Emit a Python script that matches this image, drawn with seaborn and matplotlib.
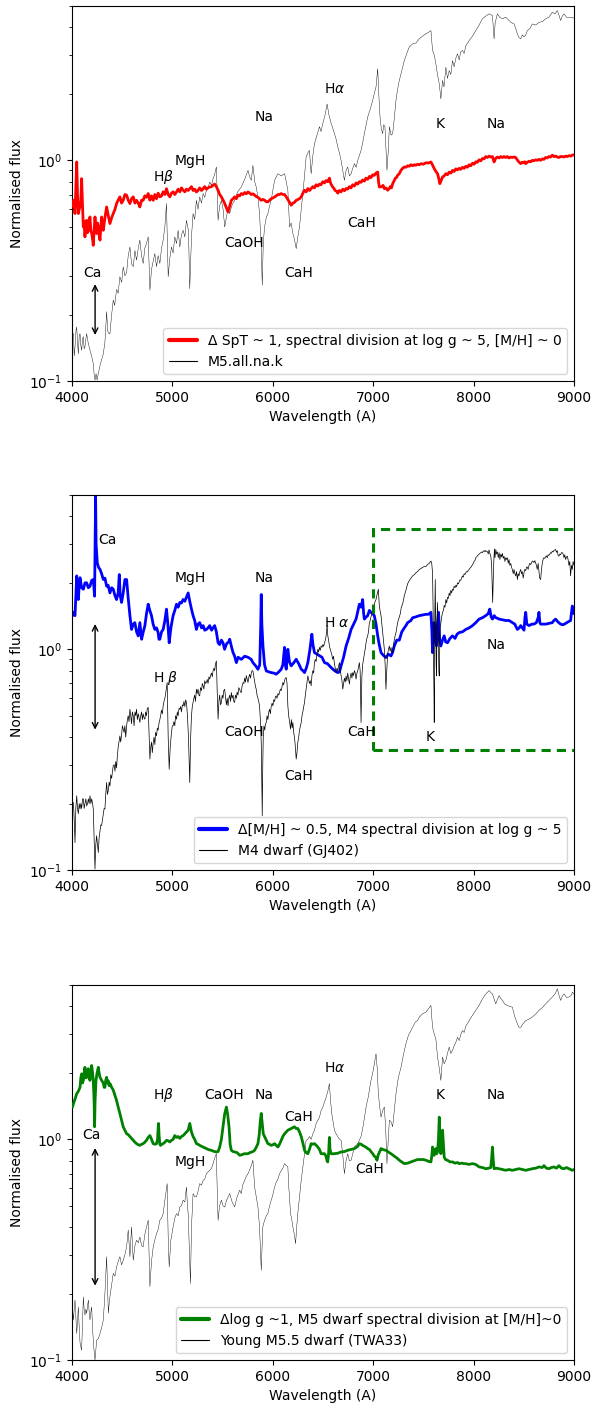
import numpy as np
import matplotlib
matplotlib.use("Agg")
import matplotlib.pyplot as plt
import seaborn as sns
from matplotlib.patches import Rectangle

sns.set_style("ticks", rc={"axes.edgecolor": "black", "xtick.color": "black",
                           "ytick.color": "black", "text.color": "black",
                           "axes.labelcolor": "black"})
plt.rcParams["font.family"] = ["DejaVu Sans"]
plt.rcParams["font.size"] = 10
plt.rcParams["mathtext.fontset"] = "dejavusans"

# ---------------- Panel 1: spectral-type division vs M5 template ----------------
spt_wave = [4005, 4014, 4022, 4030, 4040, 4047, 4055, 4063, 4072, 4080, 4088, 4096, 4105, 4113, 4121, 4129,
            4138, 4146, 4155, 4163, 4171, 4179, 4188, 4196, 4205, 4212, 4220, 4229, 4237, 4245, 4254, 4262,
            4270, 4279, 4287, 4295, 4304, 4312, 4328, 4345, 4362, 4378, 4395, 4411, 4428, 4444, 4460, 4477,
            4494, 4510, 4527, 4544, 4560, 4577, 4593, 4610, 4627, 4643, 4660, 4676, 4693, 4709, 4725, 4742,
            4759, 4776, 4792, 4809, 4825, 4842, 4858, 4875, 4892, 4908, 4925, 4941, 4958, 4974, 4991, 5007,
            5024, 5041, 5057, 5074, 5090, 5107, 5124, 5140, 5157, 5173, 5190, 5206, 5222, 5239, 5255, 5272,
            5290, 5306, 5322, 5339, 5355, 5372, 5390, 5405, 5421, 5438, 5455, 5471, 5488, 5505, 5521, 5538,
            5554, 5571, 5587, 5604, 5620, 5637, 5653, 5670, 5686, 5703, 5720, 5736, 5753, 5770, 5786, 5803,
            5819, 5836, 5852, 5868, 5885, 5902, 5918, 5935, 5951, 5968, 5984, 6001, 6018, 6034, 6051, 6068,
            6084, 6100, 6117, 6134, 6150, 6167, 6183, 6200, 6216, 6233, 6250, 6266, 6283, 6300, 6316, 6333,
            6350, 6366, 6382, 6399, 6415, 6432, 6448, 6465, 6480, 6498, 6515, 6530, 6547, 6564, 6572, 6580,
            6597, 6610, 6620, 6635, 6647, 6663, 6680, 6697, 6713, 6730, 6746, 6763, 6780, 6796, 6813, 6830,
            6846, 6862, 6879, 6895, 6912, 6928, 6945, 6962, 6978, 6995, 7010, 7028, 7045, 7053, 7061, 7085,
            7098, 7111, 7128, 7144, 7160, 7170, 7182, 7194, 7210, 7220, 7232, 7243, 7260, 7276, 7293, 7310,
            7326, 7343, 7360, 7376, 7393, 7410, 7426, 7442, 7459, 7480, 7500, 7525, 7550, 7575, 7592, 7608,
            7625, 7641, 7655, 7664, 7676, 7691, 7707, 7724, 7740, 7757, 7773, 7790, 7806, 7823, 7840, 7856,
            7872, 7889, 7906, 7922, 7939, 7956, 7972, 7989, 8005, 8022, 8038, 8055, 8072, 8088, 8105, 8121,
            8138, 8155, 8171, 8188, 8204, 8220, 8237, 8254, 8270, 8287, 8303, 8320, 8336, 8353, 8370, 8386,
            8403, 8419, 8445, 8469, 8485, 8495, 8510, 8519, 8535, 8550, 8568, 8585, 8600, 8618, 8634, 8651,
            8668, 8684, 8700, 8717, 8734, 8750, 8767, 8784, 8800, 8817, 8834, 8850, 8867, 8883, 8900, 8917,
            8933, 8950, 8967, 8983, 9000]
spt_flux = [0.62, 0.659, 0.60, 0.574, 0.80, 0.983, 0.70, 0.574, 0.60, 0.615, 0.66, 0.826, 0.62, 0.499, 0.53, 0.450,
            0.52, 0.535, 0.47, 0.482, 0.53, 0.554, 0.48, 0.466, 0.44, 0.412, 0.48, 0.554, 0.50, 0.466, 0.52, 0.499,
            0.46, 0.435, 0.50, 0.554, 0.50, 0.482, 0.55, 0.615, 0.56, 0.517, 0.55, 0.574, 0.60, 0.637, 0.66, 0.683,
            0.64, 0.659, 0.70, 0.695, 0.66, 0.637, 0.67, 0.683, 0.64, 0.659, 0.64, 0.615, 0.66, 0.659, 0.69, 0.68,
            0.707, 0.66, 0.69, 0.659, 0.70, 0.67, 0.71, 0.683, 0.69, 0.72, 0.70, 0.744, 0.70, 0.683, 0.71, 0.72,
            0.70, 0.719, 0.74, 0.72, 0.75, 0.732, 0.72, 0.74, 0.73, 0.744, 0.76, 0.73, 0.74, 0.719, 0.73, 0.75,
            0.73, 0.744, 0.76, 0.74, 0.75, 0.757, 0.76, 0.771, 0.78, 0.76, 0.732, 0.70, 0.683, 0.66, 0.637, 0.61,
            0.584, 0.62, 0.659, 0.67, 0.683, 0.67, 0.695, 0.69, 0.707, 0.70, 0.715, 0.705, 0.719, 0.71, 0.70, 0.705,
            0.695, 0.685, 0.68, 0.67, 0.659, 0.665, 0.66, 0.65, 0.648, 0.66, 0.67, 0.675, 0.683, 0.69, 0.70, 0.70,
            0.707, 0.70, 0.70, 0.683, 0.665, 0.645, 0.626, 0.64, 0.645, 0.659, 0.665, 0.67, 0.683, 0.71, 0.732, 0.72,
            0.745, 0.73, 0.744, 0.76, 0.75, 0.775, 0.765, 0.78, 0.775, 0.80, 0.79, 0.81, 0.80, 0.83, 0.80, 0.78,
            0.757, 0.745, 0.73, 0.725, 0.71, 0.73, 0.72, 0.74, 0.728, 0.745, 0.74, 0.76, 0.75, 0.775, 0.765, 0.79,
            0.78, 0.80, 0.795, 0.815, 0.805, 0.83, 0.82, 0.845, 0.835, 0.86, 0.855, 0.875, 0.885, 0.80, 0.757, 0.76,
            0.77, 0.744, 0.75, 0.732, 0.745, 0.76, 0.75, 0.784, 0.81, 0.83, 0.835, 0.855, 0.87, 0.90, 0.92, 0.933,
            0.93, 0.945, 0.94, 0.955, 0.945, 0.955, 0.95, 0.96, 0.955, 0.966, 0.96, 0.975, 0.972, 0.983, 0.95, 0.917,
            0.89, 0.870, 0.82, 0.784, 0.81, 0.841, 0.85, 0.87, 0.86, 0.885, 0.875, 0.90, 0.89, 0.915, 0.905, 0.92,
            0.91, 0.93, 0.92, 0.94, 0.93, 0.955, 0.945, 0.97, 0.96, 0.985, 0.98, 1.005, 0.995, 1.02, 1.015, 1.04,
            1.03, 1.045, 1.035, 1.04, 0.983, 1.02, 1.035, 1.025, 1.04, 1.03, 1.04, 1.03, 1.04, 1.025, 1.035, 1.03,
            1.035, 1.03, 0.99, 0.966, 0.98, 0.975, 0.985, 0.966, 0.98, 0.99, 0.985, 1.0, 0.995, 1.005, 1.0, 1.01,
            1.0, 1.015, 1.01, 1.03, 1.025, 1.04, 1.035, 1.055, 1.04, 1.045, 1.035, 1.03, 1.04, 1.04, 1.035, 1.045,
            1.04, 1.05, 1.045, 1.055, 1.06]

m5_wave = [4005, 4014, 4022, 4030, 4040, 4047, 4055, 4063, 4072, 4080, 4088, 4096, 4105, 4113, 4121, 4129,
           4138, 4146, 4160, 4179, 4195, 4212, 4222, 4229, 4240, 4250, 4262, 4280, 4295, 4312, 4328, 4340,
           4345, 4355, 4362, 4378, 4395, 4411, 4425, 4444, 4460, 4477, 4495, 4510, 4527, 4544, 4560, 4577,
           4593, 4610, 4627, 4643, 4660, 4676, 4693, 4709, 4725, 4742, 4759, 4776, 4792, 4809, 4825, 4842,
           4858, 4875, 4892, 4908, 4925, 4941, 4958, 4974, 4991, 5007, 5024, 5041, 5057, 5074, 5090, 5107,
           5124, 5140, 5160, 5173, 5190, 5206, 5222, 5239, 5255, 5272, 5290, 5306, 5322, 5339, 5355, 5372,
           5390, 5405, 5420, 5438, 5455, 5470, 5488, 5505, 5521, 5540, 5554, 5571, 5590, 5620, 5650, 5686,
           5720, 5753, 5770, 5786, 5802, 5820, 5835, 5852, 5868, 5885, 5895, 5905, 5918, 5935, 5951, 5968,
           5984, 6000, 6018, 6034, 6051, 6084, 6117, 6134, 6150, 6167, 6183, 6200, 6215, 6233, 6249, 6266,
           6283, 6299, 6316, 6332, 6349, 6365, 6382, 6399, 6415, 6440, 6465, 6480, 6498, 6520, 6541, 6560,
           6581, 6597, 6614, 6630, 6647, 6664, 6680, 6697, 6713, 6730, 6746, 6763, 6780, 6796, 6813, 6830,
           6846, 6862, 6879, 6895, 6912, 6930, 6945, 6970, 6995, 7010, 7028, 7045, 7058, 7068, 7080, 7094,
           7105, 7117, 7128, 7137, 7150, 7161, 7178, 7194, 7210, 7227, 7243, 7260, 7285, 7310, 7335, 7359,
           7393, 7426, 7459, 7490, 7525, 7550, 7575, 7591, 7608, 7624, 7640, 7658, 7674, 7691, 7705, 7724,
           7740, 7757, 7773, 7790, 7806, 7823, 7840, 7856, 7872, 7889, 7906, 7922, 7956, 7989, 8022, 8055,
           8088, 8121, 8155, 8188, 8196, 8204, 8215, 8237, 8260, 8287, 8320, 8353, 8378, 8403, 8420, 8436,
           8452, 8469, 8485, 8502, 8519, 8535, 8560, 8585, 8618, 8651, 8685, 8718, 8750, 8784, 8810, 8834,
           8850, 8867, 8883, 8900, 8925, 8950, 8983, 9000]
m5_flux = [0.16, 0.164, 0.13, 0.143, 0.17, 0.176, 0.15, 0.133, 0.16, 0.164, 0.145, 0.138, 0.155, 0.159, 0.14, 0.143,
           0.155, 0.164, 0.15, 0.138, 0.13, 0.120, 0.105, 0.101, 0.108, 0.101, 0.108, 0.118, 0.125, 0.133, 0.150, 0.19,
           0.206, 0.17, 0.165, 0.164, 0.20, 0.233, 0.22, 0.26, 0.25, 0.297, 0.28, 0.329, 0.30, 0.31, 0.37, 0.405,
           0.34, 0.33, 0.39, 0.353, 0.40, 0.435, 0.37, 0.341, 0.40, 0.42, 0.450, 0.258, 0.32, 0.35, 0.378, 0.33,
           0.37, 0.341, 0.40, 0.435, 0.50, 0.637, 0.297, 0.36, 0.405, 0.38, 0.450, 0.42, 0.482, 0.405, 0.46, 0.482,
           0.45, 0.535, 0.48, 0.262, 0.45, 0.574, 0.54, 0.659, 0.60, 0.683, 0.64, 0.707, 0.68, 0.732, 0.75, 0.798,
           0.77, 0.826, 0.86, 0.933, 0.535, 0.62, 0.659, 0.60, 0.499, 0.56, 0.60, 0.574, 0.62, 0.659, 0.72, 0.757,
           0.82, 0.901, 0.84, 0.812, 0.949, 0.80, 0.757, 0.68, 0.574, 0.40, 0.272, 0.42, 0.499, 0.55, 0.574, 0.62,
           0.659, 0.73, 0.812, 0.84, 0.870, 0.85, 0.870, 0.80, 0.732, 0.499, 0.52, 0.466, 0.44, 0.398, 0.45, 0.499,
           0.60, 0.707, 0.85, 1.035, 1.08, 1.11, 0.870, 1.05, 1.19, 1.30, 1.42, 1.35, 1.47, 1.60, 1.80, 1.60,
           1.47, 1.40, 1.32, 1.25, 1.15, 1.08, 1.0, 0.90, 0.812, 0.90, 0.933, 0.85, 0.870, 0.92, 0.966, 0.93,
           1.0, 1.05, 1.11, 1.20, 1.32, 1.45, 1.57, 1.70, 1.87, 2.0, 2.15, 2.60, 1.90, 1.57, 1.40, 1.32,
           1.45, 1.42, 1.10, 0.901, 1.10, 1.42, 1.30, 1.32, 1.55, 1.87, 2.10, 2.30, 2.55, 2.83, 3.05, 3.26,
           3.37, 3.40, 3.55, 3.65, 3.74, 3.80, 3.87, 3.15, 3.00, 2.74, 2.45, 2.22, 1.90, 2.30, 2.15, 2.64,
           2.35, 2.55, 2.45, 2.83, 2.65, 2.90, 3.04, 2.85, 3.10, 3.15, 3.05, 3.30, 3.49, 3.65, 3.87, 4.10,
           4.38, 4.50, 4.61, 4.53, 4.0, 3.55, 4.20, 4.61, 4.45, 4.38, 4.45, 4.30, 4.20, 4.15, 3.95, 3.74,
           3.60, 3.55, 3.70, 3.62, 3.70, 3.87, 3.95, 4.15, 4.10, 4.22, 4.25, 4.38, 4.45, 4.69, 4.60, 4.77,
           4.55, 4.30, 4.50, 4.61, 4.45, 4.45, 4.45, 4.40]

# ---------------- Panel 2: metallicity division vs GJ402 ----------------
mh_wave = [4005, 4014, 4030, 4047, 4055, 4063, 4072, 4080, 4096, 4113, 4130, 4146, 4163, 4179, 4196, 4212,
           4225, 4231, 4235, 4240, 4252, 4265, 4279, 4295, 4312, 4328, 4345, 4360, 4378, 4395, 4411, 4428,
           4444, 4460, 4471, 4480, 4494, 4510, 4527, 4544, 4560, 4577, 4593, 4610, 4626, 4643, 4660, 4676,
           4693, 4710, 4726, 4742, 4759, 4775, 4792, 4808, 4825, 4842, 4858, 4866, 4875, 4892, 4908, 4925,
           4941, 4955, 4968, 4985, 5007, 5024, 5041, 5057, 5074, 5090, 5107, 5124, 5140, 5157, 5173, 5190,
           5206, 5222, 5239, 5255, 5272, 5290, 5306, 5322, 5339, 5355, 5372, 5390, 5405, 5421, 5438, 5455,
           5470, 5488, 5504, 5520, 5540, 5560, 5571, 5590, 5604, 5620, 5637, 5655, 5686, 5720, 5753, 5785,
           5802, 5830, 5852, 5870, 5880, 5885, 5891, 5902, 5918, 5935, 5960, 5984, 6010, 6034, 6060, 6084,
           6100, 6117, 6125, 6134, 6142, 6150, 6165, 6183, 6210, 6233, 6258, 6283, 6300, 6316, 6333, 6349,
           6370, 6389, 6400, 6415, 6440, 6465, 6490, 6515, 6545, 6581, 6615, 6647, 6664, 6680, 6705, 6730,
           6755, 6780, 6805, 6829, 6846, 6862, 6880, 6895, 6905, 6912, 6930, 6945, 6962, 6978, 6995, 7011,
           7028, 7045, 7060, 7078, 7100, 7127, 7150, 7177, 7194, 7210, 7235, 7260, 7285, 7310, 7326, 7343,
           7376, 7393, 7420, 7459, 7490, 7525, 7550, 7575, 7585, 7591, 7600, 7608, 7620, 7631, 7640, 7651,
           7662, 7674, 7690, 7707, 7722, 7740, 7765, 7790, 7815, 7835, 7856, 7890, 7922, 7956, 7989, 8022,
           8055, 8088, 8121, 8145, 8161, 8175, 8188, 8205, 8221, 8240, 8254, 8287, 8320, 8353, 8386, 8410,
           8436, 8455, 8469, 8490, 8502, 8512, 8519, 8530, 8552, 8580, 8601, 8625, 8645, 8651, 8660, 8668,
           8700, 8718, 8750, 8784, 8800, 8817, 8840, 8867, 8890, 8917, 8940, 8966, 8983, 9000]
mh_flux = [1.42, 1.47, 1.42, 2.15, 1.80, 1.68, 1.95, 2.11, 1.90, 1.87, 2.00, 2.00, 1.90, 1.93, 2.05, 2.07,
           1.74, 3.5, 4.95, 3.0, 2.46, 2.35, 2.30, 2.20, 2.07, 2.10, 1.93, 1.95, 1.80, 1.90, 1.87, 1.75,
           1.68, 1.80, 2.18, 1.75, 1.63, 1.80, 2.07, 2.07, 1.70, 1.42, 1.23, 1.30, 1.32, 1.20, 1.15, 1.32,
           1.11, 1.20, 1.28, 1.45, 1.60, 1.50, 1.42, 1.30, 1.23, 1.25, 1.19, 1.11, 1.11, 1.20, 1.23, 1.35,
           1.52, 1.30, 1.07, 1.25, 1.42, 1.50, 1.60, 1.55, 1.63, 1.62, 1.68, 1.65, 1.72, 1.80, 1.65, 1.52,
           1.42, 1.35, 1.23, 1.30, 1.32, 1.25, 1.28, 1.22, 1.23, 1.25, 1.28, 1.22, 1.25, 1.28, 1.20, 1.07,
           1.05, 1.10, 1.07, 1.00, 1.06, 1.08, 1.11, 1.02, 0.966, 0.93, 0.870, 0.92, 0.90, 0.93, 0.92, 0.90,
           0.870, 0.84, 0.812, 0.85, 1.3, 1.77, 1.3, 1.035, 0.85, 0.798, 0.79, 0.784, 0.78, 0.771, 0.79, 0.812,
           0.85, 1.02, 0.85, 0.812, 0.90, 1.0, 0.88, 0.841, 0.87, 0.901, 0.86, 0.812, 0.80, 0.784, 0.82, 0.870,
           1.00, 1.17, 1.05, 0.966, 0.95, 0.933, 0.92, 0.870, 0.86, 0.826, 0.80, 0.784, 0.79, 0.841, 0.92, 1.035,
           1.12, 1.23, 1.30, 1.37, 1.48, 1.60, 1.55, 1.68, 1.45, 1.37, 1.40, 1.42, 1.50, 1.47, 1.45, 1.42,
           1.30, 1.15, 1.05, 0.966, 0.94, 0.917, 0.95, 0.933, 0.97, 1.035, 1.10, 1.10, 1.20, 1.25, 1.28, 1.32,
           1.35, 1.39, 1.40, 1.42, 1.43, 1.44, 1.44, 1.47, 1.2, 0.966, 1.3, 1.32, 1.10, 1.035, 1.3, 1.47,
           1.10, 1.035, 1.10, 1.15, 1.08, 1.07, 1.12, 1.15, 1.12, 1.17, 1.19, 1.20, 1.23, 1.25, 1.28, 1.32,
           1.37, 1.39, 1.42, 1.45, 1.52, 1.40, 1.37, 1.42, 1.39, 1.38, 1.37, 1.36, 1.35, 1.35, 1.32, 1.30,
           1.23, 1.25, 1.28, 1.24, 1.22, 1.40, 1.47, 1.30, 1.28, 1.30, 1.30, 1.32, 1.40, 1.47, 1.32, 1.30,
           1.30, 1.30, 1.31, 1.32, 1.35, 1.37, 1.33, 1.30, 1.29, 1.31, 1.33, 1.35, 1.57, 1.45]

gj_wave = [4005, 4014, 4022, 4030, 4038, 4047, 4055, 4063, 4072, 4080, 4088, 4096, 4105, 4113, 4121, 4129,
           4138, 4146, 4155, 4163, 4171, 4179, 4188, 4196, 4205, 4212, 4220, 4229, 4237, 4245, 4254, 4262,
           4270, 4279, 4287, 4295, 4304, 4312, 4320, 4328, 4336, 4345, 4353, 4362, 4370, 4378, 4386, 4395,
           4403, 4411, 4420, 4428, 4436, 4444, 4452, 4460, 4468, 4477, 4485, 4494, 4502, 4510, 4519, 4527,
           4535, 4544, 4552, 4560, 4568, 4577, 4585, 4593, 4601, 4610, 4618, 4627, 4635, 4643, 4651, 4660,
           4668, 4676, 4684, 4693, 4701, 4709, 4717, 4726, 4734, 4742, 4750, 4759, 4767, 4776, 4784, 4792,
           4800, 4809, 4817, 4825, 4833, 4842, 4850, 4858, 4866, 4875, 4883, 4891, 4900, 4908, 4916, 4925,
           4935, 4948, 4958, 4968, 4978, 4991, 4999, 5007, 5015, 5024, 5032, 5041, 5049, 5057, 5066, 5074,
           5082, 5090, 5099, 5107, 5115, 5124, 5132, 5140, 5150, 5160, 5173, 5182, 5190, 5198, 5206, 5214,
           5222, 5230, 5239, 5247, 5255, 5264, 5272, 5280, 5290, 5298, 5306, 5314, 5322, 5330, 5339, 5347,
           5355, 5364, 5372, 5380, 5390, 5397, 5405, 5413, 5421, 5430, 5438, 5446, 5455, 5463, 5471, 5480,
           5488, 5496, 5504, 5512, 5521, 5530, 5538, 5546, 5554, 5562, 5571, 5579, 5587, 5595, 5604, 5612,
           5620, 5628, 5637, 5645, 5653, 5661, 5670, 5678, 5686, 5694, 5704, 5712, 5720, 5728, 5736, 5745,
           5753, 5762, 5770, 5778, 5786, 5794, 5802, 5810, 5818, 5827, 5835, 5843, 5852, 5860, 5868, 5876,
           5885, 5890, 5895, 5900, 5905, 5912, 5920, 5927, 5935, 5943, 5951, 5960, 5968, 5976, 5984, 5993,
           6001, 6009, 6018, 6026, 6034, 6042, 6051, 6059, 6067, 6075, 6084, 6092, 6100, 6108, 6117, 6125,
           6134, 6142, 6150, 6158, 6167, 6177, 6185, 6193, 6200, 6208, 6216, 6225, 6233, 6241, 6249, 6258,
           6266, 6275, 6283, 6291, 6299, 6308, 6316, 6324, 6332, 6340, 6349, 6357, 6365, 6374, 6382, 6390,
           6399, 6407, 6415, 6423, 6431, 6440, 6448, 6456, 6465, 6473, 6481, 6490, 6498, 6506, 6515, 6523,
           6531, 6541, 6548, 6556, 6564, 6572, 6581, 6589, 6597, 6605, 6614, 6622, 6630, 6639, 6647, 6655,
           6664, 6672, 6680, 6689, 6697, 6705, 6713, 6722, 6730, 6738, 6746, 6754, 6763, 6771, 6780, 6788,
           6796, 6804, 6813, 6821, 6829, 6838, 6846, 6854, 6862, 6870, 6879, 6887, 6895, 6903, 6912, 6920,
           6929, 6937, 6945, 6953, 6962, 6970, 6978, 6987, 6995, 7003, 7011, 7020, 7028, 7036, 7043, 7051,
           7060, 7068, 7078, 7086, 7094, 7102, 7111, 7119, 7127, 7135, 7144, 7152, 7161, 7169, 7177, 7185,
           7194, 7202, 7210, 7218, 7227, 7235, 7243, 7252, 7260, 7270, 7280, 7293, 7310, 7326, 7343, 7360,
           7376, 7393, 7410, 7426, 7442, 7459, 7475, 7492, 7508, 7525, 7541, 7558, 7575, 7583, 7591, 7597,
           7601, 7606, 7608, 7612, 7618, 7622, 7627, 7631, 7635, 7640, 7644, 7649, 7654, 7658, 7662, 7666,
           7670, 7674, 7682, 7691, 7700, 7707, 7715, 7724, 7732, 7740, 7749, 7757, 7765, 7773, 7781, 7790,
           7798, 7806, 7815, 7823, 7831, 7840, 7848, 7856, 7864, 7872, 7880, 7889, 7897, 7906, 7914, 7922,
           7931, 7939, 7947, 7956, 7964, 7972, 7981, 7989, 7997, 8005, 8014, 8022, 8030, 8038, 8047, 8055,
           8063, 8072, 8080, 8088, 8096, 8105, 8113, 8121, 8129, 8138, 8146, 8154, 8162, 8171, 8179, 8184,
           8190, 8196, 8202, 8208, 8213, 8221, 8229, 8237, 8246, 8254, 8262, 8271, 8279, 8287, 8295, 8303,
           8312, 8320, 8328, 8336, 8345, 8353, 8361, 8370, 8378, 8386, 8395, 8403, 8411, 8419, 8428, 8436,
           8444, 8452, 8461, 8469, 8477, 8485, 8494, 8502, 8510, 8519, 8527, 8535, 8543, 8552, 8560, 8568,
           8577, 8585, 8593, 8601, 8610, 8618, 8626, 8634, 8643, 8651, 8659, 8668, 8676, 8684, 8692, 8701,
           8709, 8717, 8725, 8734, 8742, 8750, 8758, 8767, 8775, 8783, 8792, 8800, 8808, 8817, 8825, 8833,
           8842, 8850, 8858, 8867, 8875, 8883, 8892, 8900, 8908, 8917, 8925, 8933, 8941, 8950, 8958, 8966,
           8975, 8983, 8991, 9000]
gj_flux = [0.20, 0.202, 0.17, 0.133, 0.19, 0.217, 0.19, 0.18, 0.20, 0.189, 0.20, 0.19, 0.21, 0.21, 0.19, 0.20,
           0.21, 0.195, 0.20, 0.21, 0.20, 0.217, 0.20, 0.21, 0.20, 0.189, 0.14, 0.101, 0.13, 0.143, 0.13, 0.120,
           0.14, 0.15, 0.16, 0.159, 0.17, 0.18, 0.19, 0.189, 0.22, 0.249, 0.22, 0.23, 0.25, 0.24, 0.27, 0.26,
           0.28, 0.297, 0.30, 0.28, 0.31, 0.29, 0.33, 0.36, 0.38, 0.405, 0.38, 0.41, 0.45, 0.435, 0.42, 0.45,
           0.40, 0.45, 0.48, 0.50, 0.47, 0.535, 0.50, 0.46, 0.52, 0.499, 0.45, 0.52, 0.50, 0.535, 0.48, 0.51,
           0.49, 0.466, 0.50, 0.52, 0.48, 0.51, 0.49, 0.482, 0.52, 0.50, 0.54, 0.545, 0.42, 0.318, 0.36, 0.38,
           0.34, 0.378, 0.40, 0.37, 0.42, 0.405, 0.44, 0.43, 0.46, 0.482, 0.50, 0.53, 0.51, 0.554, 0.58, 0.60,
           0.64, 0.707, 0.40, 0.286, 0.36, 0.42, 0.45, 0.450, 0.47, 0.45, 0.50, 0.482, 0.52, 0.50, 0.54, 0.535,
           0.55, 0.52, 0.56, 0.554, 0.58, 0.55, 0.59, 0.574, 0.50, 0.40, 0.249, 0.40, 0.50, 0.55, 0.574, 0.60,
           0.62, 0.58, 0.659, 0.63, 0.66, 0.62, 0.615, 0.67, 0.65, 0.70, 0.683, 0.66, 0.72, 0.70, 0.707, 0.73,
           0.70, 0.75, 0.732, 0.76, 0.78, 0.75, 0.798, 0.82, 0.80, 0.86, 0.885, 0.65, 0.482, 0.58, 0.62, 0.56,
           0.574, 0.62, 0.60, 0.65, 0.659, 0.60, 0.56, 0.60, 0.554, 0.60, 0.62, 0.58, 0.637, 0.60, 0.62, 0.58,
           0.574, 0.62, 0.60, 0.64, 0.62, 0.67, 0.659, 0.64, 0.637, 0.68, 0.707, 0.70, 0.74, 0.71, 0.76, 0.73,
           0.707, 0.75, 0.77, 0.74, 0.78, 0.80, 0.798, 0.76, 0.72, 0.68, 0.659, 0.62, 0.60, 0.58, 0.554, 0.48,
           0.378, 0.25, 0.176, 0.30, 0.40, 0.45, 0.43, 0.46, 0.466, 0.50, 0.48, 0.52, 0.535, 0.51, 0.55, 0.57,
           0.554, 0.59, 0.58, 0.61, 0.615, 0.60, 0.63, 0.62, 0.637, 0.66, 0.65, 0.68, 0.707, 0.69, 0.72, 0.74,
           0.744, 0.70, 0.554, 0.50, 0.47, 0.435, 0.48, 0.44, 0.466, 0.42, 0.40, 0.36, 0.318, 0.34, 0.378, 0.40,
           0.43, 0.45, 0.466, 0.50, 0.52, 0.55, 0.574, 0.62, 0.66, 0.70, 0.757, 0.73, 0.70, 0.72, 0.683, 0.76,
           0.80, 0.78, 0.870, 0.90, 0.88, 0.95, 1.0, 0.97, 1.02, 0.99, 1.035, 1.02, 1.05, 1.03, 1.07, 1.10,
           1.15, 1.28, 1.15, 1.10, 1.035, 1.00, 0.97, 0.94, 0.90, 0.93, 0.86, 0.82, 0.784, 0.82, 0.80, 0.84,
           0.870, 0.80, 0.76, 0.72, 0.659, 0.70, 0.74, 0.71, 0.757, 0.72, 0.78, 0.74, 0.695, 0.75, 0.78, 0.74,
           0.784, 0.76, 0.80, 0.78, 0.732, 0.78, 0.80, 0.83, 0.870, 0.80, 0.466, 0.75, 0.85, 0.90, 0.95, 1.00,
           1.07, 1.12, 1.15, 1.20, 1.32, 1.35, 1.40, 1.45, 1.47, 1.55, 1.60, 1.65, 1.68, 1.75, 1.80, 1.87,
           1.60, 1.50, 1.42, 1.30, 1.20, 1.10, 1.00, 0.85, 0.659, 0.80, 0.95, 1.00, 1.035, 0.98, 1.02, 0.97,
           0.966, 1.05, 1.10, 1.15, 1.19, 1.25, 1.32, 1.36, 1.40, 1.45, 1.55, 1.60, 1.75, 1.85, 1.98, 2.05,
           2.10, 2.15, 2.18, 2.22, 2.25, 2.30, 2.32, 2.35, 2.37, 2.37, 2.42, 2.45, 2.51, 2.45, 2.22, 1.5,
           0.90, 0.60, 0.466, 1.2, 2.07, 1.4, 0.85, 0.757, 1.3, 1.63, 1.40, 1.10, 0.80, 0.757, 1.00, 1.25,
           1.28, 1.32, 1.40, 1.47, 1.50, 1.58, 1.55, 1.68, 1.62, 1.72, 1.70, 1.80, 1.75, 1.85, 1.80, 1.87,
           1.85, 1.93, 1.90, 1.95, 1.92, 2.00, 1.98, 2.02, 2.06, 2.05, 2.10, 2.15, 2.12, 2.20, 2.18, 2.22,
           2.25, 2.24, 2.28, 2.30, 2.33, 2.35, 2.38, 2.42, 2.45, 2.50, 2.53, 2.60, 2.62, 2.65, 2.68, 2.70,
           2.72, 2.74, 2.76, 2.74, 2.78, 2.80, 2.76, 2.80, 2.78, 2.77, 2.70, 2.82, 2.72, 2.64, 2.45, 2.00,
           1.63, 2.10, 2.55, 2.85, 2.60, 2.83, 2.70, 2.76, 2.60, 2.74, 2.55, 2.70, 2.62, 2.72, 2.58, 2.64,
           2.50, 2.60, 2.55, 2.60, 2.45, 2.55, 2.40, 2.45, 2.35, 2.30, 2.20, 2.30, 2.20, 2.15, 2.25, 2.07,
           2.20, 2.15, 2.25, 2.30, 2.20, 2.25, 2.10, 2.22, 2.30, 2.27, 2.35, 2.36, 2.30, 2.40, 2.45, 2.42,
           2.47, 2.51, 2.50, 2.47, 2.52, 2.46, 2.40, 2.30, 2.45, 2.25, 2.10, 2.07, 2.30, 2.45, 2.55, 2.60,
           2.58, 2.62, 2.65, 2.60, 2.68, 2.66, 2.70, 2.74, 2.72, 2.78, 2.76, 2.80, 2.82, 2.83, 2.75, 2.80,
           2.66, 2.64, 2.70, 2.68, 2.74, 2.74, 2.70, 2.60, 2.68, 2.55, 2.62, 2.64, 2.55, 2.40, 2.50, 2.15,
           2.40, 2.30, 2.50, 2.40]

# ---------------- Panel 3: gravity division vs TWA33 ----------------
grav_wave = [4005, 4014, 4030, 4047, 4063, 4080, 4088, 4096, 4105, 4113, 4121, 4129, 4138, 4146, 4155, 4163,
             4171, 4179, 4188, 4196, 4205, 4212, 4220, 4225, 4230, 4239, 4250, 4262, 4270, 4279, 4287, 4295,
             4312, 4320, 4328, 4336, 4345, 4353, 4362, 4370, 4378, 4395, 4411, 4428, 4444, 4460, 4477, 4494,
             4510, 4527, 4544, 4560, 4577, 4593, 4610, 4627, 4643, 4660, 4676, 4693, 4709, 4725, 4742, 4759,
             4776, 4792, 4809, 4825, 4842, 4852, 4858, 4862, 4867, 4875, 4882, 4895, 4908, 4925, 4941, 4958,
             4974, 4991, 5007, 5024, 5041, 5057, 5074, 5090, 5107, 5124, 5140, 5157, 5173, 5190, 5206, 5222,
             5239, 5255, 5272, 5290, 5306, 5322, 5339, 5355, 5372, 5388, 5405, 5421, 5438, 5455, 5471, 5488,
             5504, 5520, 5538, 5550, 5564, 5575, 5587, 5604, 5620, 5645, 5670, 5686, 5700, 5720, 5736, 5753,
             5770, 5786, 5802, 5819, 5835, 5852, 5865, 5875, 5885, 5893, 5905, 5918, 5935, 5951, 5968, 5984,
             6001, 6018, 6034, 6051, 6067, 6084, 6100, 6117, 6134, 6150, 6167, 6183, 6200, 6216, 6232, 6249,
             6266, 6283, 6300, 6316, 6332, 6349, 6365, 6382, 6399, 6415, 6432, 6448, 6465, 6481, 6498, 6515,
             6530, 6540, 6547, 6555, 6560, 6564, 6570, 6581, 6600, 6614, 6647, 6680, 6713, 6746, 6780, 6813,
             6846, 6862, 6879, 6895, 6912, 6930, 6945, 6962, 6978, 6995, 7010, 7025, 7038, 7050, 7065, 7078,
             7094, 7111, 7127, 7144, 7160, 7177, 7194, 7210, 7227, 7243, 7260, 7285, 7310, 7343, 7376, 7410,
             7442, 7475, 7500, 7525, 7550, 7575, 7585, 7591, 7600, 7608, 7616, 7624, 7632, 7641, 7650, 7658,
             7666, 7674, 7682, 7691, 7699, 7707, 7720, 7740, 7765, 7790, 7815, 7840, 7856, 7880, 7905, 7922,
             7950, 7989, 8020, 8055, 8088, 8121, 8150, 8171, 8180, 8188, 8196, 8204, 8230, 8254, 8287, 8320,
             8353, 8386, 8420, 8452, 8485, 8519, 8552, 8585, 8618, 8651, 8684, 8701, 8725, 8751, 8775, 8800,
             8825, 8850, 8875, 8900, 8925, 8950, 8983, 9000]
grav_flux = [1.40, 1.45, 1.52, 1.61, 1.65, 1.72, 1.90, 1.98, 1.80, 1.85, 2.00, 2.12, 1.90, 1.91, 2.05, 2.09,
             1.90, 1.85, 2.00, 2.16, 2.00, 1.85, 1.50, 1.14, 1.50, 1.85, 2.00, 2.12, 2.00, 1.91, 1.88, 1.85,
             1.80, 1.72, 1.72, 1.85, 1.91, 1.80, 1.84, 1.75, 1.79, 1.72, 1.67, 1.58, 1.50, 1.40, 1.31, 1.22,
             1.14, 1.10, 1.06, 1.05, 1.03, 1.01, 0.99, 0.97, 0.956, 0.945, 0.939, 0.95, 0.956, 0.97, 0.99, 1.02,
             1.04, 1.00, 0.956, 0.95, 0.956, 1.00, 1.12, 1.18, 1.05, 0.95, 0.939, 0.95, 0.956, 0.97, 0.99, 0.985,
             0.973, 0.99, 1.00, 1.04, 1.02, 1.03, 1.01, 1.03, 1.04, 1.06, 1.08, 1.10, 1.18, 1.08, 1.03, 1.00,
             0.956, 0.95, 0.939, 0.93, 0.923, 0.915, 0.908, 0.90, 0.895, 0.892, 0.885, 0.88, 0.877, 0.88, 0.923, 1.00,
             1.14, 1.30, 1.40, 1.30, 1.14, 0.95, 0.892, 0.88, 0.877, 0.87, 0.847, 0.85, 0.855, 0.861, 0.86, 0.861,
             0.87, 0.875, 0.88, 0.892, 0.92, 0.956, 1.05, 1.20, 1.31, 1.20, 1.06, 1.03, 0.99, 0.956, 0.95, 0.939,
             0.945, 0.956, 0.94, 0.923, 0.95, 0.99, 1.03, 1.06, 1.08, 1.10, 1.11, 1.12, 1.13, 1.14, 1.12, 1.12,
             1.08, 1.03, 0.96, 0.892, 0.87, 0.861, 0.90, 0.956, 0.95, 0.956, 0.94, 0.923, 0.90, 0.861, 0.86, 0.861,
             0.84, 0.80, 0.79, 0.85, 0.95, 1.02, 0.90, 0.861, 0.86, 0.861, 0.865, 0.877, 0.88, 0.892, 0.90, 0.908,
             0.93, 0.956, 0.95, 0.939, 0.93, 0.92, 0.908, 0.90, 0.88, 0.861, 0.84, 0.83, 0.804, 0.85, 0.88, 0.908,
             0.90, 0.895, 0.892, 0.88, 0.87, 0.861, 0.85, 0.84, 0.83, 0.818, 0.804, 0.79, 0.776, 0.78, 0.790, 0.80,
             0.810, 0.81, 0.81, 0.804, 0.795, 0.790, 0.85, 0.923, 0.85, 0.847, 0.90, 0.908, 0.86, 0.877, 1.00, 1.26,
             1.00, 0.861, 0.95, 1.10, 0.95, 0.832, 0.81, 0.804, 0.79, 0.790, 0.78, 0.785, 0.776, 0.78, 0.776, 0.776,
             0.77, 0.776, 0.77, 0.750, 0.745, 0.736, 0.74, 0.745, 0.82, 0.923, 0.80, 0.736, 0.74, 0.736, 0.73, 0.724,
             0.73, 0.724, 0.73, 0.736, 0.73, 0.724, 0.73, 0.736, 0.74, 0.75, 0.745, 0.76, 0.74, 0.736, 0.745, 0.75,
             0.74, 0.76, 0.74, 0.736, 0.745, 0.736, 0.724, 0.73]

twa_wave = [4005, 4014, 4022, 4030, 4038, 4047, 4055, 4063, 4072, 4080, 4088, 4096, 4105, 4113, 4121, 4129,
            4138, 4146, 4155, 4163, 4171, 4179, 4188, 4196, 4205, 4212, 4220, 4229, 4237, 4245, 4262, 4279,
            4295, 4312, 4328, 4345, 4353, 4362, 4370, 4378, 4395, 4411, 4428, 4444, 4460, 4477, 4494, 4510,
            4527, 4544, 4560, 4577, 4593, 4610, 4627, 4643, 4660, 4676, 4693, 4709, 4725, 4742, 4759, 4776,
            4792, 4809, 4825, 4842, 4858, 4875, 4892, 4908, 4925, 4941, 4948, 4958, 4968, 4985, 5007, 5024,
            5041, 5057, 5074, 5090, 5107, 5124, 5140, 5150, 5157, 5170, 5180, 5190, 5206, 5222, 5239, 5255,
            5272, 5290, 5306, 5322, 5339, 5355, 5372, 5390, 5405, 5420, 5438, 5446, 5455, 5470, 5488, 5504,
            5521, 5540, 5571, 5595, 5620, 5645, 5670, 5686, 5700, 5720, 5736, 5753, 5770, 5786, 5802, 5819,
            5835, 5852, 5868, 5885, 5900, 5918, 5935, 5951, 5968, 5984, 6000, 6018, 6034, 6051, 6067, 6084,
            6100, 6117, 6134, 6150, 6160, 6177, 6190, 6200, 6215, 6227, 6238, 6249, 6266, 6283, 6300, 6316,
            6332, 6349, 6365, 6382, 6399, 6415, 6432, 6448, 6465, 6481, 6498, 6515, 6531, 6548, 6564, 6575,
            6587, 6600, 6614, 6630, 6647, 6664, 6680, 6697, 6713, 6730, 6746, 6763, 6780, 6796, 6813, 6830,
            6846, 6862, 6879, 6900, 6929, 6950, 6978, 7000, 7028, 7040, 7051, 7065, 7078, 7094, 7111, 7125,
            7137, 7150, 7161, 7178, 7194, 7210, 7227, 7250, 7277, 7300, 7326, 7350, 7376, 7393, 7420, 7442,
            7459, 7490, 7525, 7550, 7575, 7591, 7608, 7624, 7641, 7658, 7674, 7691, 7707, 7724, 7740, 7757,
            7773, 7790, 7806, 7823, 7840, 7856, 7872, 7889, 7906, 7922, 7956, 7989, 8022, 8055, 8088, 8121,
            8155, 8175, 8188, 8205, 8221, 8237, 8254, 8270, 8287, 8310, 8336, 8360, 8386, 8410, 8436, 8452,
            8469, 8495, 8519, 8550, 8585, 8620, 8651, 8685, 8718, 8750, 8784, 8810, 8834, 8850, 8867, 8883,
            8900, 8925, 8950, 8975, 8983, 9000]
twa_flux = [0.17, 0.152, 0.17, 0.187, 0.16, 0.132, 0.15, 0.174, 0.14, 0.12, 0.115, 0.111, 0.15, 0.193, 0.17, 0.16,
            0.17, 0.163, 0.175, 0.187, 0.165, 0.152, 0.165, 0.174, 0.14, 0.123, 0.11, 0.100, 0.11, 0.123, 0.125, 0.132,
            0.14, 0.152, 0.20, 0.294, 0.22, 0.163, 0.18, 0.194, 0.22, 0.247, 0.24, 0.264, 0.28, 0.294, 0.27, 0.283,
            0.30, 0.326, 0.388, 0.294, 0.401, 0.283, 0.33, 0.349, 0.34, 0.361, 0.33, 0.326, 0.37, 0.40, 0.430, 0.215,
            0.28, 0.326, 0.35, 0.374, 0.39, 0.430, 0.44, 0.461, 0.53, 0.60, 0.630, 0.36, 0.264, 0.35, 0.401, 0.44,
            0.461, 0.45, 0.494, 0.50, 0.530, 0.52, 0.608, 0.50, 0.461, 0.30, 0.222, 0.40, 0.568, 0.55, 0.548, 0.58,
            0.630, 0.62, 0.652, 0.66, 0.699, 0.71, 0.724, 0.74, 0.776, 0.82, 0.861, 0.60, 0.430, 0.50, 0.530, 0.50,
            0.494, 0.53, 0.568, 0.52, 0.494, 0.55, 0.588, 0.568, 0.62, 0.652, 0.68, 0.699, 0.73, 0.76, 0.804, 0.608,
            0.55, 0.494, 0.40, 0.255, 0.40, 0.430, 0.45, 0.461, 0.50, 0.530, 0.56, 0.608, 0.64, 0.66, 0.699, 0.72,
            0.74, 0.776, 0.76, 0.750, 0.60, 0.461, 0.43, 0.401, 0.37, 0.337, 0.40, 0.461, 0.55, 0.652, 0.75, 0.86,
            0.99, 1.00, 1.03, 1.00, 1.06, 1.10, 1.18, 1.22, 1.26, 1.35, 1.40, 1.48, 1.55, 1.65, 1.79, 1.50,
            1.31, 1.20, 1.10, 1.06, 1.03, 1.00, 0.99, 0.85, 0.699, 0.80, 0.861, 0.80, 0.804, 0.86, 0.923, 0.94,
            0.956, 0.99, 1.03, 1.15, 1.40, 1.55, 1.85, 2.05, 2.44, 2.10, 1.61, 1.40, 1.26, 1.35, 1.40, 1.10,
            0.776, 1.00, 1.22, 1.20, 1.14, 1.35, 1.61, 1.90, 2.12, 2.40, 2.71, 2.95, 3.11, 3.22, 3.40, 3.45,
            3.58, 3.70, 3.77, 3.90, 4.04, 3.22, 3.00, 2.85, 2.36, 2.10, 1.85, 2.36, 2.20, 2.28, 2.45, 2.62,
            2.45, 2.53, 2.65, 2.75, 2.90, 2.80, 2.98, 3.11, 3.05, 3.25, 3.45, 3.65, 3.84, 4.05, 4.33, 4.55,
            4.72, 4.60, 4.56, 4.30, 4.11, 4.30, 4.48, 4.35, 4.26, 4.10, 4.04, 4.00, 3.97, 3.60, 3.34, 3.22,
            3.22, 3.35, 3.45, 3.50, 3.58, 3.70, 3.84, 3.95, 4.11, 4.25, 4.41, 4.55, 4.81, 4.50, 4.26, 4.45,
            4.56, 4.40, 4.41, 4.50, 4.64, 4.55]

# Feature labels: (text, wavelength, flux)
labels_top = [("Ca", 4200, 0.31), (r"H$\beta$", 4915, 0.84), ("MgH", 5175, 0.99), ("Na", 5910, 1.57),
              ("CaOH", 5712, 0.42), ("CaH", 6262, 0.31), (r"H$\alpha$", 6615, 2.10), ("CaH", 6882, 0.52),
              ("K", 7667, 1.46), ("Na", 8224, 1.46)]
labels_mid = [("Ca", 4350, 3.14), ("MgH", 5175, 2.10), ("Na", 5910, 2.10), (r"H $\alpha$", 6642, 1.32),
              (r"H $\beta$", 4935, 0.74), ("CaOH", 5712, 0.42), ("CaH", 6262, 0.266), ("CaH", 6882, 0.42),
              ("K", 7570, 0.40), ("Na", 8224, 1.05)]
labels_bot = [(r"H$\beta$", 4915, 1.58), ("CaOH", 5515, 1.58), ("Na", 5910, 1.58), ("CaH", 6262, 1.26),
              (r"H$\alpha$", 6615, 2.11), ("Ca", 4195, 1.05), ("MgH", 5175, 0.79), ("CaH", 6963, 0.737),
              ("K", 7667, 1.58), ("Na", 8224, 1.58)]

# Double-headed arrows marking the Ca offset: (wavelength, low, high)
arrow_top = (4230, 0.157, 0.283)
arrow_mid = (4230, 0.42, 1.34)
arrow_bot = (4230, 0.211, 0.94)

panels = [
    dict(bottom=0.7284, colour_wave=spt_wave, colour_flux=spt_flux, colour="red",
         colour_label="Δ SpT ~ 1, spectral division at log g ~ 5, [M/H] ~ 0",
         ref_wave=m5_wave, ref_flux=m5_flux, ref_label="M5.all.na.k", ref_lw=0.3,
         colour_on_top=True, labels=labels_top, arrow=arrow_top),
    dict(bottom=0.3799, colour_wave=mh_wave, colour_flux=mh_flux, colour="blue",
         colour_label="Δ[M/H] ~ 0.5, M4 spectral division at log g ~ 5",
         ref_wave=gj_wave, ref_flux=gj_flux, ref_label="M4 dwarf (GJ402)", ref_lw=0.5,
         colour_on_top=False, labels=labels_mid, arrow=arrow_mid),
    dict(bottom=0.0306, colour_wave=grav_wave, colour_flux=grav_flux, colour="green",
         colour_label="Δlog g ~1, M5 dwarf spectral division at [M/H]~0",
         ref_wave=twa_wave, ref_flux=twa_flux, ref_label="Young M5.5 dwarf (TWA33)", ref_lw=0.3,
         colour_on_top=True, labels=labels_bot, arrow=arrow_bot),
]

fig = plt.figure(figsize=(5.95, 14.03), dpi=100)

for p in panels:
    ax = fig.add_axes([0.121, p["bottom"], 0.8437, 0.2673])
    z_col, z_ref = (3, 2) if p["colour_on_top"] else (2, 3)
    sns.lineplot(x=np.array(p["colour_wave"]), y=np.array(p["colour_flux"]), ax=ax,
                 color=p["colour"], linewidth=2.0, label=p["colour_label"],
                 sort=False, estimator=None, zorder=z_col)
    sns.lineplot(x=np.array(p["ref_wave"]), y=np.array(p["ref_flux"]), ax=ax,
                 color="black", linewidth=p["ref_lw"], label=p["ref_label"],
                 sort=False, estimator=None, zorder=z_ref)
    ax.set_yscale("log")
    ax.set_xlim(4000, 9000)
    ax.set_ylim(0.1, 5.0)
    ax.set_xticks([4000, 5000, 6000, 7000, 8000, 9000])
    ax.set_xlabel("Wavelength (A)")
    ax.set_ylabel("Normalised flux")
    for txt, wl, fl in p["labels"]:
        ax.text(wl, fl, txt, ha="center", va="center", fontsize=10, zorder=5)
    wl, lo, hi = p["arrow"]
    ax.annotate("", xy=(wl, lo), xytext=(wl, hi),
                arrowprops=dict(arrowstyle="<->", color="black", lw=1.0))
    leg = ax.legend(loc="lower right", fontsize=10)
    handles = leg.get_lines()
    handles[0].set_linewidth(3.0)
    handles[1].set_linewidth(0.8)
    if p["colour"] == "blue":
        ax.add_patch(Rectangle((7000, 0.35), 2100, 3.15, fill=False, edgecolor="green",
                               linestyle=(0, (3, 2)), linewidth=2.2, zorder=4))

fig.savefig("out.png", dpi=100)
